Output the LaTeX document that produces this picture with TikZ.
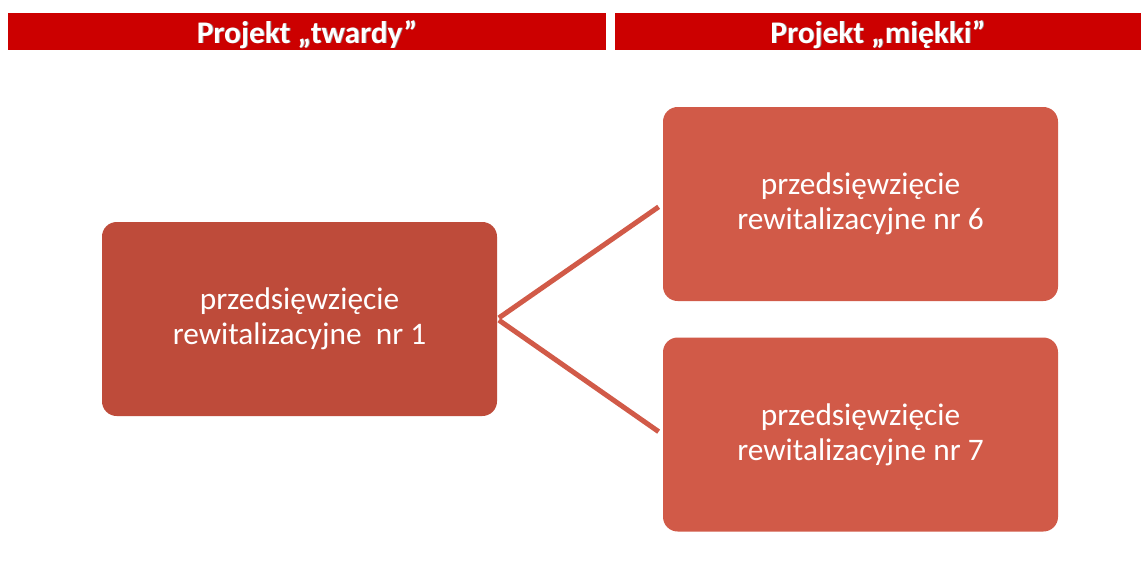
\documentclass[tikz,border=0pt]{standalone}
\usepackage{fontspec}
\setmainfont{Carlito}
\usetikzlibrary{positioning,calc}
\definecolor{headRed}{HTML}{CC0000}
\definecolor{hardFill}{HTML}{BE4B3A}
\definecolor{softFill}{HTML}{D15A48}
\definecolor{linkRed}{HTML}{D15A48}
\definecolor{shade}{HTML}{A08A8A}
% white title with a soft drop shadow
\newcommand{\shadowtitle}[1]{%
  \makebox[0pt][l]{\raisebox{-0.7pt}{\hspace{0.7pt}\textcolor{shade}{#1}}}#1}
\tikzset{
  header/.style={fill=headRed,text=white,inner sep=0pt,
    minimum height=27.75pt,font=\fontsize{23.5}{26}\selectfont\bfseries},
  task/.style={rounded corners=11pt,text=white,align=center,inner sep=0pt,
    minimum width=296.25pt,minimum height=145.5pt,
    font=\fontsize{23.5}{26}\selectfont},
  link/.style={draw=linkRed,line width=3.75pt,shorten <=1.5pt,shorten >=3.75pt}
}
\begin{document}
\begin{tikzpicture}[x=0.75pt,y=-0.75pt]
  \path[use as bounding box,fill=white] (0,0) rectangle (1141,579);

  % column headers
  \node[header,minimum width=448.5pt] (hardHead) at (307,31.5) {};
  \node[header,minimum width=394.5pt] (softHead) at (878,31.5) {};
  \node[text=white,font=\fontsize{23.5}{26}\selectfont\bfseries,anchor=base]
    (hardTitle) at (307,43) {\shadowtitle{Projekt „twardy”}};
  \node[text=white,font=\fontsize{23.5}{26}\selectfont\bfseries,anchor=base]
    (softTitle) at (878,43) {\shadowtitle{Projekt „miękki”}};

  % projects
  \node[task,fill=hardFill] (hard) at (299.5,319)
    {przedsięwzięcie\\rewitalizacyjne\ \ nr 1};
  \node[task,fill=softFill] (soft6) at (860.5,204)
    {przedsięwzięcie\\rewitalizacyjne nr 6};
  \node[task,fill=softFill] (soft7) at (860.5,434.5)
    {przedsięwzięcie\\rewitalizacyjne nr 7};

  \foreach \t in {soft6,soft7}
    \draw[link] (hard.east) -- (\t.west);
\end{tikzpicture}
\end{document}
